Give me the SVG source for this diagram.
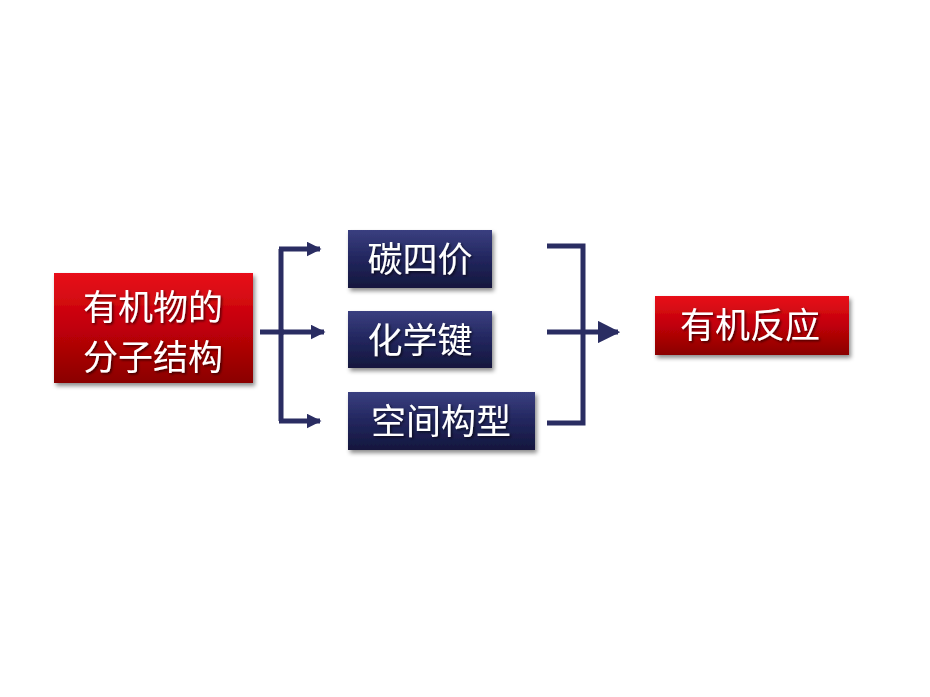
<svg xmlns="http://www.w3.org/2000/svg" width="930" height="697" viewBox="0 0 930 697">
<defs>
<linearGradient id="red" x1="0" y1="0" x2="0" y2="1"><stop offset="0" stop-color="#e8101a"/><stop offset="0.5" stop-color="#c00008"/><stop offset="1" stop-color="#8a0000"/></linearGradient>
<linearGradient id="blue" x1="0" y1="0" x2="0" y2="1"><stop offset="0" stop-color="#3a3f80"/><stop offset="0.5" stop-color="#22265e"/><stop offset="1" stop-color="#14173d"/></linearGradient>
<filter id="sh" x="-10%" y="-10%" width="125%" height="130%"><feDropShadow dx="2" dy="3" stdDeviation="2" flood-color="#000" flood-opacity="0.45"/></filter>
<filter id="ts"><feDropShadow dx="1.5" dy="1.5" stdDeviation="1" flood-color="#000" flood-opacity="0.6"/></filter>
<marker id="a" viewBox="0 0 10 10" refX="9" refY="5" markerWidth="3" markerHeight="3" orient="auto"><path d="M0,0 L10,5 L0,10 Z" fill="#2a2d62"/></marker>
<marker id="b" viewBox="0 0 10 10" refX="9" refY="5" markerWidth="4.5" markerHeight="4.5" orient="auto"><path d="M0,0 L10,5 L0,10 Z" fill="#2a2d62"/></marker>
</defs>
<style>
text{font-family:"Noto Sans CJK SC",sans-serif;fill:#fff;font-size:35px;filter:url(#ts)}
.c{fill:none;stroke:#2a2d62;stroke-width:5}
</style>
<g id="connectors">
<path class="c" d="M260,332 H284"/>
<path class="c" d="M281,249 V421"/>
<path class="c" d="M279,249 H320" marker-end="url(#a)"/>
<path class="c" d="M281,332 H324" marker-end="url(#a)"/>
<path class="c" d="M279,421 H320" marker-end="url(#a)"/>
<path class="c" d="M547,246 H583 V423 H547"/>
<path class="c" d="M547,332 H618" marker-end="url(#b)"/>
</g>
<g id="n1"><rect x="54" y="273" width="199" height="110" fill="url(#red)" filter="url(#sh)"/><text x="153" y="320" text-anchor="middle">有机物的</text><text x="153" y="370" text-anchor="middle">分子结构</text></g>
<g id="n2"><rect x="348" y="230" width="144" height="58" fill="url(#blue)" filter="url(#sh)"/><text x="420" y="272" text-anchor="middle">碳四价</text></g>
<g id="n3"><rect x="348" y="311" width="144" height="57" fill="url(#blue)" filter="url(#sh)"/><text x="420" y="353" text-anchor="middle">化学键</text></g>
<g id="n4"><rect x="348" y="392" width="187" height="58" fill="url(#blue)" filter="url(#sh)"/><text x="441" y="434" text-anchor="middle">空间构型</text></g>
<g id="n5"><rect x="655" y="296" width="194" height="59" fill="url(#red)" filter="url(#sh)"/><text x="750" y="338" text-anchor="middle">有机反应</text></g>
</svg>
